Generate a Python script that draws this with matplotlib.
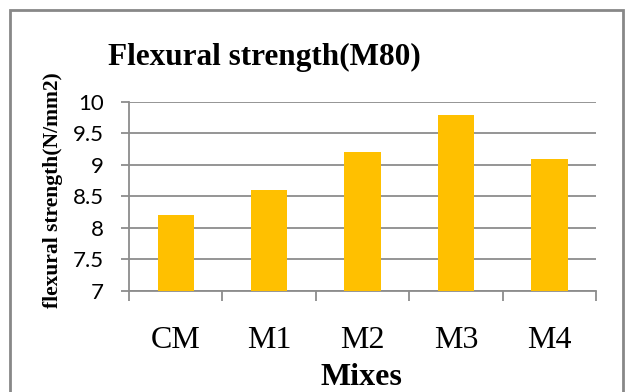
import matplotlib
matplotlib.use("Agg")
import matplotlib.pyplot as plt
from matplotlib.patches import Rectangle
from matplotlib.ticker import MultipleLocator, FixedLocator

mixes = ["CM", "M1", "M2", "M3", "M4"]
strength = [8.2, 8.6, 9.2, 9.8, 9.1]  # N/mm2

GRID = "#8c8c8c"
BAR = "#FFC000"
SERIF = "Liberation Serif"

fig = plt.figure(figsize=(6.26, 3.92), dpi=100)
ax = fig.add_axes([0.2061, 0.2577, 0.7460, 0.4821])

x = range(len(mixes))
ax.bar(x, strength, width=0.39, color=BAR, zorder=3)

ax.set_xlim(-0.5, len(mixes) - 0.5)
ax.set_ylim(7, 10)
ax.yaxis.set_major_locator(MultipleLocator(0.5))
ax.set_yticklabels([f"{v:g}" for v in ax.get_yticks()])
ax.grid(axis="y", color=GRID, linewidth=1.3, zorder=0)

for side in ("top", "right"):
    ax.spines[side].set_visible(False)
for side in ("left", "bottom"):
    ax.spines[side].set_color(GRID)
    ax.spines[side].set_linewidth(1.3)

ax.set_xticks(list(x))
ax.set_xticklabels(mixes, fontsize=23, family=SERIF)
ax.xaxis.set_minor_locator(FixedLocator([i - 0.5 for i in range(len(mixes) + 1)]))
ax.tick_params(axis="x", which="major", length=0, pad=25)
ax.tick_params(axis="x", which="minor", length=7, width=1.3, color=GRID)
ax.tick_params(axis="y", length=6, width=1.3, color=GRID, pad=12, labelsize=16)
for lbl in ax.get_yticklabels():
    lbl.set_family("Lato")

fig.text(0.423, 0.853, "Flexural strength(M80)", ha="center", va="center",
         fontsize=22.5, fontweight="bold", family=SERIF)
fig.text(0.578, 0.036, "Mixes", ha="center", va="center",
         fontsize=23, fontweight="bold", family=SERIF)
fig.text(0.084, 0.515, "flexural strength(N/mm2)", ha="center", va="center",
         rotation=90, fontsize=15.5, fontweight="bold", family=SERIF)

# outer chart border
fig.patches.append(Rectangle((10 / 626, -0.1), 613 / 626, 1 - 10 / 392 + 0.1,
                             transform=fig.transFigure, fill=False,
                             edgecolor="#888888", linewidth=2))

fig.savefig("out.png", dpi=100)
